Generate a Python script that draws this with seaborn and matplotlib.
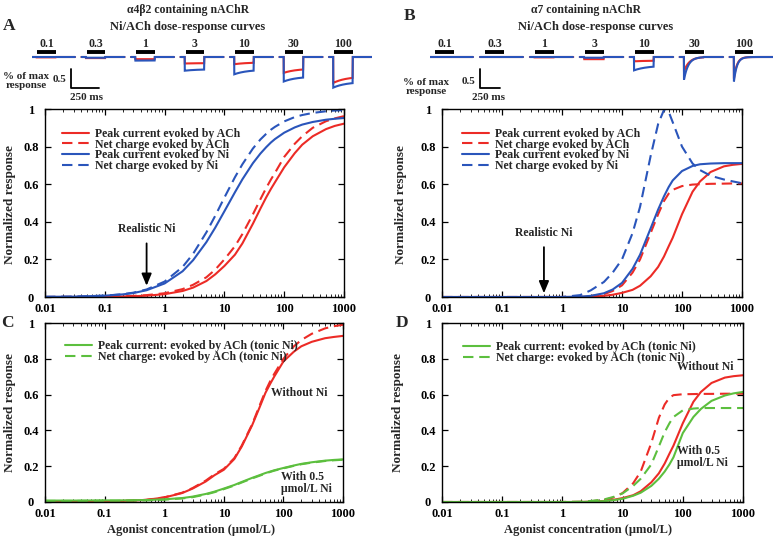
import numpy as np
import matplotlib
matplotlib.use("Agg")
import matplotlib.pyplot as plt
import seaborn as sns
from matplotlib.ticker import LogLocator, NullFormatter

sns.set_theme(style="ticks")
plt.rcParams["font.family"] = ["Liberation Serif", "DejaVu Serif"]
plt.rcParams["font.weight"] = "bold"
plt.rcParams["axes.labelweight"] = "bold"

RED = "#ec2b26"
BLUE = "#2a55bb"
GREEN = "#5cbf3e"

# ---------------- data ----------------
conc = [0.01, 0.03, 0.1, 0.2, 0.3, 0.5, 1, 2, 3, 5, 7, 10, 15, 20, 30, 40, 50,
        60, 70, 100, 150, 200, 300, 500, 700, 1000]

# Panel A (alpha4beta2)
a_ach_peak = [0, 0, 0.001, 0.003, 0.004, 0.007, 0.015, 0.032, 0.05, 0.085, 0.12, 0.165,
              0.225, 0.285, 0.39, 0.47, 0.53, 0.575, 0.61, 0.69, 0.765, 0.81, 0.855,
              0.893, 0.91, 0.922]
a_ach_charge = [0, 0.001, 0.002, 0.004, 0.006, 0.01, 0.02, 0.042, 0.065, 0.105, 0.145,
                0.2, 0.27, 0.335, 0.44, 0.52, 0.58, 0.625, 0.66, 0.745, 0.815, 0.855,
                0.9, 0.935, 0.95, 0.962]
a_ni_peak = [0.001, 0.002, 0.007, 0.014, 0.021, 0.036, 0.072, 0.137, 0.196, 0.292, 0.368,
             0.456, 0.557, 0.626, 0.712, 0.763, 0.797, 0.822, 0.84, 0.874, 0.902, 0.917,
             0.931, 0.943, 0.948, 0.952]
a_ni_charge = [0.001, 0.002, 0.007, 0.015, 0.023, 0.04, 0.082, 0.16, 0.23, 0.344, 0.431,
               0.529, 0.637, 0.706, 0.79, 0.838, 0.868, 0.89, 0.905, 0.934, 0.957, 0.968,
               0.979, 0.988, 0.992, 0.994]

# Panel B (alpha7)
b_ach_peak = [0, 0, 0, 0, 0, 0, 0, 0, 0.002, 0.006, 0.012, 0.022, 0.038, 0.06, 0.11,
              0.16, 0.215, 0.27, 0.315, 0.44, 0.56, 0.615, 0.665, 0.695, 0.703, 0.708]
b_ach_charge = [0, 0, 0, 0, 0, 0, 0, 0.002, 0.005, 0.015, 0.032, 0.062, 0.13, 0.2, 0.34,
                0.44, 0.51, 0.55, 0.57, 0.59, 0.598, 0.6, 0.602, 0.603, 0.604, 0.604]
b_ni_peak = [0, 0, 0, 0, 0, 0, 0, 0.002, 0.006, 0.02, 0.04, 0.075, 0.15, 0.225, 0.365,
             0.465, 0.535, 0.585, 0.62, 0.67, 0.697, 0.706, 0.71, 0.712, 0.712, 0.712]
b_ni_charge = [0, 0, 0, 0, 0, 0, 0, 0.01, 0.035, 0.08, 0.13, 0.2, 0.34, 0.48, 0.75,
               0.92, 0.995, 0.985, 0.93, 0.8, 0.71, 0.675, 0.645, 0.625, 0.615, 0.605]

# Panel C (alpha4beta2, tonic Ni)
c_ach_peak = [0.002, 0.003, 0.004, 0.006, 0.008, 0.012, 0.025, 0.05, 0.075, 0.115, 0.15,
              0.18, 0.24, 0.31, 0.43, 0.53, 0.61, 0.66, 0.7, 0.785, 0.84, 0.87, 0.895,
              0.915, 0.922, 0.928]
c_ach_charge = [0.002, 0.003, 0.004, 0.006, 0.008, 0.012, 0.026, 0.052, 0.078, 0.12, 0.155,
                0.185, 0.245, 0.315, 0.435, 0.54, 0.62, 0.675, 0.715, 0.8, 0.87, 0.905,
                0.94, 0.97, 0.982, 0.99]
c_tonic_peak = [0.008, 0.008, 0.009, 0.009, 0.01, 0.011, 0.015, 0.022, 0.03, 0.045, 0.058,
                0.075, 0.095, 0.112, 0.135, 0.15, 0.162, 0.17, 0.177, 0.19, 0.204, 0.213,
                0.222, 0.231, 0.235, 0.238]
c_tonic_charge = [0.006, 0.006, 0.007, 0.007, 0.008, 0.009, 0.013, 0.02, 0.027, 0.042,
                  0.055, 0.072, 0.092, 0.109, 0.132, 0.147, 0.159, 0.168, 0.175, 0.188,
                  0.202, 0.211, 0.22, 0.229, 0.233, 0.236]

# Panel D (alpha7, tonic Ni)
d_ach_peak = b_ach_peak
d_ach_charge = [0, 0, 0, 0, 0, 0, 0, 0.001, 0.004, 0.012, 0.025, 0.05, 0.105, 0.17, 0.33,
                0.47, 0.545, 0.583, 0.597, 0.602, 0.603, 0.604, 0.604, 0.605, 0.605, 0.605]
d_tonic_peak = [0, 0, 0, 0, 0, 0, 0, 0, 0.002, 0.005, 0.01, 0.018, 0.035, 0.052, 0.09,
                0.13, 0.17, 0.21, 0.25, 0.385, 0.475, 0.52, 0.565, 0.595, 0.607, 0.615]
d_tonic_charge = [0, 0, 0, 0, 0, 0, 0, 0.002, 0.006, 0.015, 0.028, 0.048, 0.09, 0.13,
                  0.21, 0.31, 0.39, 0.44, 0.475, 0.512, 0.522, 0.525, 0.525, 0.525,
                  0.525, 0.525]

xticks = [0.01, 0.1, 1, 10, 100, 1000]
xtick_labels = ["0.01", "0.1", "1", "10", "100", "1000"]
yticks = [0, 0.2, 0.4, 0.6, 0.8, 1.0]
ytick_labels = ["0", "0.2", "0.4", "0.6", "0.8", "1"]

# current traces (fraction of max response) at each agonist concentration
trace_conc = ["0.1", "0.3", "1", "3", "10", "30", "100"]
ta_red_peak = [0.01, 0.03, 0.06, 0.18, 0.2, 0.44, 0.72]
ta_red_end = [0.01, 0.03, 0.06, 0.17, 0.15, 0.32, 0.54]
ta_red_tau = [1, 1, 1, 0.3, 0.3, 0.3, 0.3]
ta_blue_peak = [0.0, 0.02, 0.1, 0.38, 0.48, 0.68, 0.85]
ta_blue_end = [0.0, 0.02, 0.09, 0.34, 0.35, 0.54, 0.69]
ta_blue_tau = [1, 1, 1, 0.3, 0.3, 0.3, 0.3]

tb_red_peak = [0, 0, 0.01, 0.06, 0.12, 0.4, 0.6]
tb_red_end = [0, 0, 0.01, 0.06, 0.1, 0.0, 0.0]
tb_red_tau = [1, 1, 1, 1, 0.3, 0.12, 0.07]
tb_blue_peak = [0, 0, 0, 0.02, 0.37, 0.63, 0.68]
tb_blue_end = [0, 0, 0, 0.02, 0.24, 0.0, 0.0]
tb_blue_tau = [1, 1, 1, 1, 0.3, 0.1, 0.07]

# ---------------- figure ----------------
W, H = 773, 540
fig = plt.figure(figsize=(W / 100, H / 100), dpi=100)


def box(l, t, r, b):
    return [l / W, 1 - b / H, (r - l) / W, (b - t) / H]


def ftext(x, y, s, **kw):
    fig.text(x / W, 1 - y / H, s, **kw)


LW = 1.5
DASH = (0, (5, 2.8))


def style(ax):
    ax.set_xscale("log")
    ax.set_xlim(0.01, 1000)
    ax.set_ylim(0, 1)
    ax.set_xticks(xticks)
    ax.set_xticklabels(xtick_labels)
    ax.xaxis.set_minor_locator(LogLocator(base=10, subs=np.arange(2, 10), numticks=20))
    ax.xaxis.set_minor_formatter(NullFormatter())
    ax.set_yticks(yticks)
    ax.set_yticklabels(ytick_labels)
    ax.tick_params(which="major", direction="in", top=True, right=True, length=4,
                   width=0.9, labelsize=9, colors="black")
    ax.tick_params(axis="x", which="major", pad=4)
    ax.tick_params(axis="y", which="major", pad=10)
    ax.tick_params(which="minor", direction="in", top=True, right=True, length=2.2,
                   width=0.7)
    for lab in ax.get_xticklabels():
        lab.set_fontweight("bold")
    for lab in ax.get_yticklabels():
        lab.set_fontweight("bold")
        lab.set_horizontalalignment("center")
    for s in ax.spines.values():
        s.set_linewidth(1.0)
        s.set_color("black")
    ax.set_xlabel("")
    ax.set_ylabel("")


def curve(ax, y, color, dashed=False, label=None):
    sns.lineplot(x=conc, y=y, ax=ax, color=color, lw=LW,
                 linestyle=DASH if dashed else "-", label=label, legend=False)


def legend(ax, x, y):
    ax.legend(loc="upper left", bbox_to_anchor=(x, y), frameon=False,
              handlelength=2.3, handletextpad=0.5, labelspacing=-0.1, borderpad=0,
              borderaxespad=0, prop={"weight": "bold", "size": 8.5})


axA = fig.add_axes(box(45, 109, 344, 297))
axB = fig.add_axes(box(442, 109, 742, 297))
axC = fig.add_axes(box(45, 323, 343, 502))
axD = fig.add_axes(box(442, 323, 743, 502))

# Panel A
curve(axA, a_ach_peak, RED, False, "Peak current evoked by ACh")
curve(axA, a_ach_charge, RED, True, "Net charge evoked by ACh")
curve(axA, a_ni_peak, BLUE, False, "Peak current evoked by Ni")
curve(axA, a_ni_charge, BLUE, True, "Net charge evoked by Ni")
style(axA)
legend(axA, 0.057, 0.90)
axA.text(0.5, 0.36, "Realistic Ni", ha="center", va="center", fontsize=8.5,
         fontweight="bold")
axA.annotate("", xy=(0.5, 0.045), xytext=(0.5, 0.30),
             arrowprops=dict(arrowstyle="-|>,head_width=0.25,head_length=0.6",
                             color="black", lw=1.3))

# Panel B
curve(axB, b_ach_peak, RED, False, "Peak current evoked by ACh")
curve(axB, b_ach_charge, RED, True, "Net charge evoked by ACh")
curve(axB, b_ni_peak, BLUE, False, "Peak current evoked by Ni")
curve(axB, b_ni_charge, BLUE, True, "Net charge evoked by Ni")
style(axB)
legend(axB, 0.067, 0.90)
axB.text(0.5, 0.34, "Realistic Ni", ha="center", va="center", fontsize=8.5,
         fontweight="bold")
axB.annotate("", xy=(0.5, 0.005), xytext=(0.5, 0.28),
             arrowprops=dict(arrowstyle="-|>,head_width=0.25,head_length=0.6",
                             color="black", lw=1.3))

# Panel C
curve(axC, c_ach_peak, RED, False, None)
curve(axC, c_ach_charge, RED, True, None)
curve(axC, c_tonic_peak, GREEN, False, "Peak current: evoked by ACh (tonic Ni)")
curve(axC, c_tonic_charge, GREEN, True, "Net charge: evoked by ACh (tonic Ni)")
style(axC)
legend(axC, 0.067, 0.905)
axC.text(63, 0.61, "Without Ni", ha="left", va="center", fontsize=8.5, fontweight="bold")
axC.text(91, 0.105, "With 0.5\nμmol/L Ni", ha="left", va="center", fontsize=8.5,
         fontweight="bold", linespacing=1.0)

# Panel D
curve(axD, d_ach_peak, RED, False, None)
curve(axD, d_ach_charge, RED, True, None)
curve(axD, d_tonic_peak, GREEN, False, "Peak current: evoked by ACh (tonic Ni)")
curve(axD, d_tonic_charge, GREEN, True, "Net charge: evoked by ACh (tonic Ni)")
style(axD)
legend(axD, 0.07, 0.90)
axD.text(700, 0.755, "Without Ni", ha="right", va="center", fontsize=8.5,
         fontweight="bold")
axD.text(80, 0.25, "With 0.5\nμmol/L Ni", ha="left", va="center", fontsize=8.5,
         fontweight="bold", linespacing=1.0)

# axis labels
for x, yc in [(10, 205), (401, 205), (10, 412), (398, 412)]:
    ftext(x, yc, "Normalized response", rotation=90, ha="center", va="center",
          fontsize=9.5, fontweight="bold")
for xc in [191, 588]:
    ftext(xc, 530, "Agonist concentration (μmol/L)", ha="center", va="center",
          fontsize=9, fontweight="bold")

# titles and panel letters
ftext(188, 10, "α4β2 containing nAChR", ha="center", va="center", fontsize=8.5)
ftext(188, 27, "Ni/ACh dose-response curves", ha="center", va="center", fontsize=9)
ftext(586, 10, "α7 containing nAChR", ha="center", va="center", fontsize=8.5)
ftext(596, 27, "Ni/ACh dose-response curves", ha="center", va="center", fontsize=9)
ftext(9, 26, "A", ha="center", va="center", fontsize=12.5, fontweight="bold")
ftext(410, 16, "B", ha="center", va="center", fontsize=12.5, fontweight="bold")
ftext(7, 323, "C", ha="center", va="center", fontsize=12.5, fontweight="bold")
ftext(402, 323, "D", ha="center", va="center", fontsize=12.5, fontweight="bold")


# ---------------- traces ----------------
def traces(rect, rp, re, rt, bp, be, bt, sbar_x, sbar_w):
    ax = fig.add_axes(box(*rect))
    ax.set_xlim(0, 7.9)
    ax.set_ylim(-1.194, 0.472)
    ax.axis("off")
    t = np.linspace(0, 1, 400)
    on = (t >= 0.1) & (t <= 0.55)
    for i, lab in enumerate(trace_conc):
        x0 = i * 1.15
        for pk, en, tau, col in [(rp[i], re[i], rt[i], RED), (bp[i], be[i], bt[i], BLUE)]:
            y = np.zeros_like(t)
            y[on] = -(en + (pk - en) * np.exp(-(t[on] - 0.1) / tau))
            ax.plot(x0 + t, y, color=col, lw=1.5, solid_joinstyle="miter")
        ax.plot([x0 + 0.12, x0 + 0.55], [0.14, 0.14], color="black", lw=2.8,
                solid_capstyle="butt")
        ax.text(x0 + 0.335, 0.19, lab, ha="center", va="bottom", fontsize=8.5,
                fontweight="bold")
    ax.plot([sbar_x, sbar_x, sbar_x + sbar_w], [-0.333, -0.861, -0.861], color="black",
            lw=1.3, clip_on=False)
    return ax


traces((32, 40, 372, 100), ta_red_peak, ta_red_end, ta_red_tau,
       ta_blue_peak, ta_blue_end, ta_blue_tau, 0.907, 0.65)
traces((430, 40, 773, 100), tb_red_peak, tb_red_end, tb_red_tau,
       tb_blue_peak, tb_blue_end, tb_blue_tau, 1.152, 0.46)

ftext(26, 81, "% of max\nresponse", ha="center", va="center", fontsize=8,
      fontweight="bold", linespacing=1.0)
ftext(66, 79, "0.5", ha="right", va="center", fontsize=8, fontweight="bold")
ftext(86, 97, "250 ms", ha="center", va="center", fontsize=8, fontweight="bold")
ftext(426, 87, "% of max\nresponse", ha="center", va="center", fontsize=8,
      fontweight="bold", linespacing=1.0)
ftext(475, 82, "0.5", ha="right", va="center", fontsize=8, fontweight="bold")
ftext(489, 98, "250 ms", ha="center", va="center", fontsize=8, fontweight="bold")

fig.savefig("out.png", dpi=100)
